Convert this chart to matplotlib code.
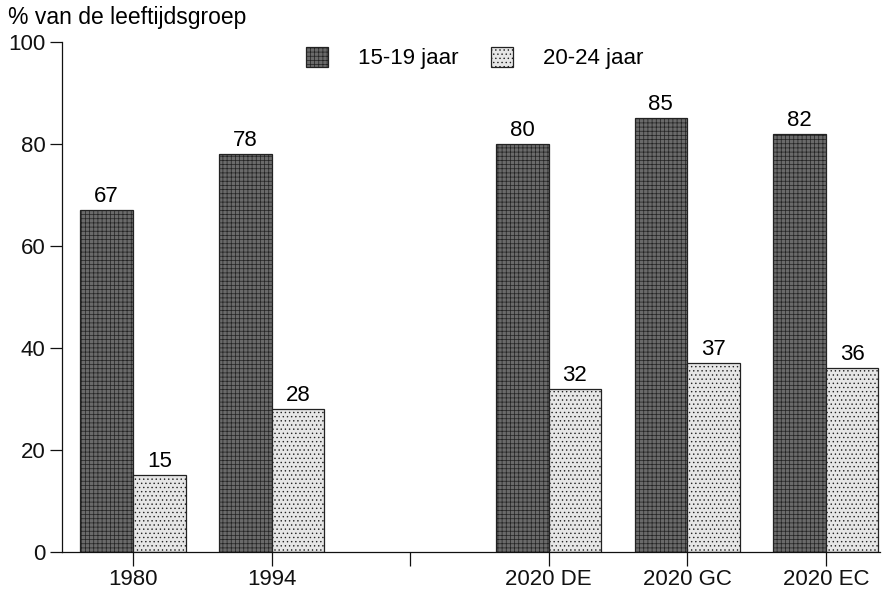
import matplotlib
matplotlib.use("Agg")
import matplotlib.pyplot as plt
import numpy as np

plt.rcParams['font.family'] = ['Liberation Sans', 'DejaVu Sans']
plt.rcParams['hatch.linewidth'] = 0.5
plt.rcParams['hatch.color'] = '#2a2a2a'

categories = ["1980", "1994", "", "2020 DE", "2020 GC", "2020 EC"]
series_names = ["15-19 jaar", "20-24 jaar"]
young = [67, 78, None, 80, 85, 82]
older = [15, 28, None, 32, 37, 36]
yticks = [0, 20, 40, 60, 80, 100]

fig = plt.figure(figsize=(8.86, 5.91), dpi=100)
ax = fig.add_axes([0.070, 0.066, 0.923, 0.863])

x = np.arange(len(categories))
w = 0.38
fs = 16
for i in range(len(categories)):
    if young[i] is None:
        continue
    ax.bar(x[i] - w/2, young[i], w, color='#6a6a6a', edgecolor='#222222', linewidth=0.9,
           hatch='++++', label=series_names[0] if i == 0 else None)
    ax.bar(x[i] + w/2, older[i], w, color='#e6e6e6', edgecolor='#222222', linewidth=0.9,
           hatch='....', label=series_names[1] if i == 0 else None)
    ax.text(x[i] - w/2, young[i] + 0.6, str(young[i]), ha='center', va='bottom', fontsize=fs)
    ax.text(x[i] + w/2, older[i] + 0.6, str(older[i]), ha='center', va='bottom', fontsize=fs)

ax.set_xlim(-0.512, 5.39)
ax.set_ylim(0, 100)
ax.set_yticks(yticks)
ax.set_xticks(x)
ax.set_xticklabels(categories)
ax.tick_params(axis='both', labelsize=fs, direction='out', width=0.9, colors='#111111')
ax.tick_params(axis='y', length=9, pad=3)
ax.tick_params(axis='x', length=10, pad=2)
for s in ['top', 'right']:
    ax.spines[s].set_visible(False)
for s in ['left', 'bottom']:
    ax.spines[s].set_linewidth(0.9)
    ax.spines[s].set_color('#111111')

fig.text(0.009, 0.970, "% van de leeftijdsgroep", fontsize=16.5, ha='left', va='center')

leg = ax.legend(loc='upper center', bbox_to_anchor=(0.505, 1.03), ncol=2, frameon=False,
                fontsize=fs, handlelength=1.0, handleheight=1.0, columnspacing=1.45,
                handletextpad=1.35)

fig.savefig("out.png", dpi=100)
